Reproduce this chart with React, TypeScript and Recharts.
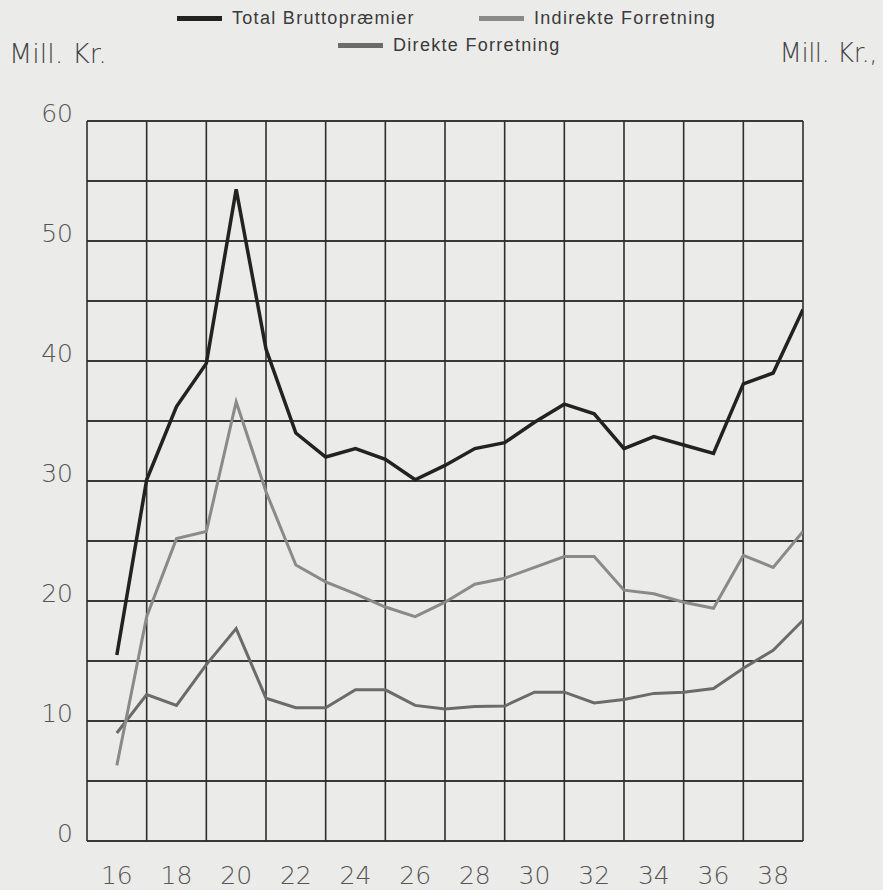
import React from 'react';
import { LineChart, Line, XAxis, YAxis, CartesianGrid, ReferenceLine } from 'recharts';

const years = [16, 17, 18, 19, 20, 21, 22, 23, 24, 25, 26, 27, 28, 29, 30, 31, 32, 33, 34, 35, 36, 37, 38, 39];
const total = [15.5, 30.1, 36.2, 39.8, 54.3, 41.0, 34.0, 32.0, 32.7, 31.8, 30.1, 31.3, 32.7, 33.2, 34.9, 36.4, 35.6, 32.7, 33.7, 33.0, 32.3, 38.1, 39.0, 44.3];
const indirekte = [6.3, 18.7, 25.2, 25.8, 36.6, 29.1, 23.0, 21.6, 20.6, 19.5, 18.7, 19.9, 21.4, 21.9, 22.8, 23.7, 23.7, 20.9, 20.6, 19.9, 19.4, 23.8, 22.8, 25.8];
const direkte = [9.0, 12.2, 11.3, 14.7, 17.7, 11.9, 11.1, 11.1, 12.6, 12.6, 11.3, 11.0, 11.2, 11.25, 12.4, 12.4, 11.5, 11.8, 12.3, 12.4, 12.7, 14.4, 15.9, 18.4];

const xTicks = [16, 18, 20, 22, 24, 26, 28, 30, 32, 34, 36, 38];
const xGridYears = [15, 17, 19, 21, 23, 25, 27, 29, 31, 33, 35, 37, 39];
const yTicks = [0, 5, 10, 15, 20, 25, 30, 35, 40, 45, 50, 55, 60];
const unitLabel = 'Mill. Kr.';
const unitLabelRight = 'Mill. Kr.,';

const data = years.map((y, i) => ({ year: y, total: total[i], indirekte: indirekte[i], direkte: direkte[i] }));

const AXFONT = '"DejaVu Sans", sans-serif';
const LGFONT = '"Liberation Sans", Arial, sans-serif';
const TEXT = '#555';
const C_TOTAL = '#222';
const C_IND = '#8a8a8a';
const C_DIR = '#6b6b6b';
const GRID = '#2e2e2e';

const LeftTick = (props: any) => {
  const { y, payload } = props;
  if (payload.value % 10 !== 0) return null;
  return (
    <text x={73} y={y - 8} textAnchor="end" dominantBaseline="central" fontFamily={AXFONT} fontWeight={200} fontSize={25} fill={TEXT}>
      {payload.value}
    </text>
  );
};

const RightTick = (props: any) => {
  const { y, payload } = props;
  if (payload.value % 10 !== 0) return null;
  return (
    <text x={820} y={y - 8} textAnchor="start" dominantBaseline="central" fontFamily={AXFONT} fontWeight={200} fontSize={25} fill={TEXT}>
      {payload.value}
    </text>
  );
};

const BottomTick = (props: any) => {
  const { x, payload } = props;
  return (
    <text x={x} y={875} textAnchor="middle" dominantBaseline="central" fontFamily={AXFONT} fontWeight={200} fontSize={25} fill={TEXT}>
      {payload.value}
    </text>
  );
};

const legendItems = [
  { name: 'Total Bruttopræmier', color: C_TOTAL, left: 177, top: 8 },
  { name: 'Indirekte Forretning', color: C_IND, left: 479, top: 8 },
  { name: 'Direkte Forretning', color: C_DIR, left: 338, top: 35 },
];

export default function App() {
  return (
    <div style={{ position: 'absolute', left: 0, top: 0, width: 883, height: 890, background: '#ebebe9', overflow: 'hidden' }}>
      {legendItems.map((it) => (
        <div key={it.name} style={{ position: 'absolute', left: it.left, top: it.top, display: 'flex', alignItems: 'center', height: 20 }}>
          <div style={{ width: 45, height: 5, background: it.color, marginRight: 10 }} />
          <span style={{ fontFamily: LGFONT, fontSize: 18, letterSpacing: 1.3, color: '#3a3a3a', whiteSpace: 'nowrap' }}>{it.name}</span>
        </div>
      ))}
      <div style={{ position: 'absolute', left: 9, top: 38, fontFamily: AXFONT, fontWeight: 200, fontSize: 27, color: '#444', whiteSpace: 'nowrap' }}>{unitLabel}</div>
      <div style={{ position: 'absolute', right: 6, top: 38, fontFamily: AXFONT, fontWeight: 200, fontSize: 26, letterSpacing: -0.5, color: '#444', whiteSpace: 'nowrap', textAlign: 'right' }}>{unitLabelRight}</div>
      <div style={{ position: 'absolute', left: 0, top: 0 }}>
        <LineChart width={883} height={890} data={data} margin={{ top: 121, right: 0, bottom: 0, left: 0 }}>
          <CartesianGrid yAxisId="left" vertical={false} stroke={GRID} strokeWidth={1.6} />
          <XAxis dataKey="year" type="number" domain={[15, 39]} ticks={xTicks} height={49} axisLine={false} tickLine={false} tick={<BottomTick />} interval={0} allowDataOverflow />
          <YAxis yAxisId="left" orientation="left" width={87} domain={[0, 60]} ticks={yTicks} axisLine={false} tickLine={false} tick={<LeftTick />} interval={0} />
          <YAxis yAxisId="right" orientation="right" width={80} domain={[0, 60]} ticks={yTicks} axisLine={false} tickLine={false} tick={<RightTick />} interval={0} />
          {yTicks.map((v) => (
            <ReferenceLine key={'h' + v} y={v} yAxisId="left" stroke={GRID} strokeWidth={1.6} />
          ))}
          {xGridYears.map((yr) => (
            <ReferenceLine key={'v' + yr} x={yr} yAxisId="left" stroke={GRID} strokeWidth={1.6} />
          ))}
          <Line yAxisId="left" type="linear" dataKey="direkte" stroke={C_DIR} strokeWidth={3} dot={false} isAnimationActive={false} />
          <Line yAxisId="left" type="linear" dataKey="indirekte" stroke={C_IND} strokeWidth={3} dot={false} isAnimationActive={false} />
          <Line yAxisId="left" type="linear" dataKey="total" stroke={C_TOTAL} strokeWidth={3.5} dot={false} isAnimationActive={false} />
        </LineChart>
      </div>
    </div>
  );
}
